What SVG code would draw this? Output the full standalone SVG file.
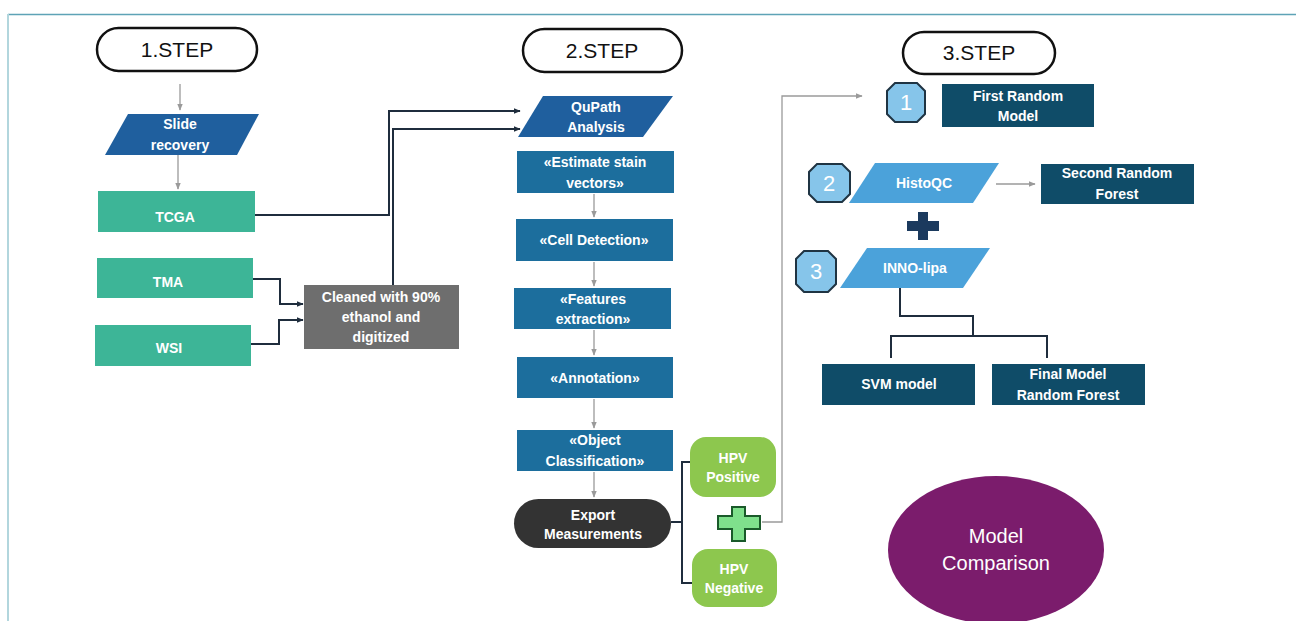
<svg xmlns="http://www.w3.org/2000/svg" width="1296" height="621" viewBox="0 0 1296 621">
<style>
  .t{font-family:"Liberation Sans",Arial,sans-serif;fill:#fff;text-anchor:middle;font-weight:bold;font-size:14px}
  .step{fill:#fff;stroke:#111;stroke-width:2.5}
  .stept{font-family:"Liberation Sans",Arial,sans-serif;fill:#111;text-anchor:middle;font-size:21px}
  .par1{fill:#1f5f9e}
  .blue{fill:#1c6e9d}
  .navy{fill:#0f4c68}
  .lblue{fill:#4ba2da}
  .teal{fill:#3db597}
  .badge{fill:#86c5ea;stroke:#1f3443;stroke-width:2}
  .bt{font-family:"Liberation Sans",Arial,sans-serif;fill:#fff;text-anchor:middle;font-size:22px}
  .g{fill:none;stroke:#9a9a9a;stroke-width:1.3}
  .d{fill:none;stroke:#1f2d3d;stroke-width:2}
</style>
<defs>
  <marker id="ag" viewBox="0 0 10 10" refX="9" refY="5" markerWidth="7" markerHeight="7" orient="auto" markerUnits="userSpaceOnUse">
    <path d="M0,1 L10,5 L0,9 z" fill="#9a9a9a"/>
  </marker>
  <marker id="ad" viewBox="0 0 10 10" refX="9" refY="5" markerWidth="7" markerHeight="7" orient="auto" markerUnits="userSpaceOnUse">
    <path d="M0,1 L10,5 L0,9 z" fill="#1f2d3d"/>
  </marker>
</defs>
<rect width="1296" height="621" fill="#fff"/>
<line x1="8" y1="14.5" x2="1296" y2="14.5" stroke="#5ea3b6" stroke-width="1.5"/>
<line x1="8" y1="14" x2="8" y2="621" stroke="#b2d6dd" stroke-width="2"/>

<g id="connectors">
  <path class="g" d="M180,84 V110" marker-end="url(#ag)"/>
  <path class="g" d="M178,155 V189" marker-end="url(#ag)"/>
  <path class="d" d="M253,279 H280 V304 H303" marker-end="url(#ad)"/>
  <path class="d" d="M251,344 H279 V320 H303" marker-end="url(#ad)"/>
  <path class="d" d="M255,215 H389 V111 H520" marker-end="url(#ad)"/>
  <path class="d" d="M393,285 V129 H520" marker-end="url(#ad)"/>
  <path class="g" d="M594,194 V217" marker-end="url(#ag)"/>
  <path class="g" d="M594,262 V286" marker-end="url(#ag)"/>
  <path class="g" d="M594,330 V355" marker-end="url(#ag)"/>
  <path class="g" d="M594,399 V428" marker-end="url(#ag)"/>
  <path class="g" d="M594,472 V497" marker-end="url(#ag)"/>
  <path class="d" d="M671,522 H682 M690,462 H682 V583 H692"/>
  <path class="g" d="M762,522 H782 V96 H862" marker-end="url(#ag)"/>
  <path class="g" d="M996,184 H1035" marker-end="url(#ag)"/>
  <path class="d" d="M900,288 V316 H973 V336 M891,358 V336 H1047 V358"/>
</g>

<g id="step1">
  <rect class="step" x="97" y="28" width="160" height="43" rx="21.5"/>
  <text class="stept" x="177" y="57">1.STEP</text>
</g>
<g id="slide-recovery">
  <polygon class="par1" points="128,114 259,114 237,155 105,155"/>
  <text class="t" x="180" y="129" font-size="15">Slide</text>
  <text class="t" x="180" y="150" font-size="15">recovery</text>
</g>
<g id="tcga">
  <rect class="teal" x="98" y="191" width="157" height="41"/>
  <text class="t" x="175" y="222" font-size="16">TCGA</text>
</g>
<g id="tma">
  <rect class="teal" x="97" y="258" width="156" height="40"/>
  <text class="t" x="168" y="287" font-size="16">TMA</text>
</g>
<g id="wsi">
  <rect class="teal" x="95" y="325" width="156" height="41"/>
  <text class="t" x="169" y="353" font-size="16">WSI</text>
</g>
<g id="cleaned">
  <rect x="304" y="285" width="155" height="64" fill="#6e6e6e"/>
  <text class="t" x="381" y="302">Cleaned with 90%</text>
  <text class="t" x="381" y="322">ethanol and</text>
  <text class="t" x="381" y="342">digitized</text>
</g>

<g id="step2">
  <rect class="step" x="523" y="29" width="159" height="43" rx="21.5"/>
  <text class="stept" x="602" y="58">2.STEP</text>
</g>
<g id="qupath">
  <polygon class="par1" points="543,96 673,96 643,137 518,137"/>
  <text class="t" x="596" y="112">QuPath</text>
  <text class="t" x="596" y="132">Analysis</text>
</g>
<g id="estimate">
  <rect class="blue" x="517" y="151" width="157" height="42"/>
  <text class="t" x="595" y="167">«Estimate stain</text>
  <text class="t" x="595" y="188">vectors»</text>
</g>
<g id="cell-detection">
  <rect class="blue" x="516" y="219" width="157" height="42"/>
  <text class="t" x="594" y="245">«Cell Detection»</text>
</g>
<g id="features">
  <rect class="blue" x="514" y="288" width="157" height="41"/>
  <text class="t" x="593" y="304">«Features</text>
  <text class="t" x="593" y="324">extraction»</text>
</g>
<g id="annotation">
  <rect class="blue" x="517" y="357" width="156" height="41"/>
  <text class="t" x="595" y="383">«Annotation»</text>
</g>
<g id="object-classification">
  <rect class="blue" x="517" y="430" width="156" height="41"/>
  <text class="t" x="595" y="445">«Object</text>
  <text class="t" x="595" y="466">Classification»</text>
</g>
<g id="export">
  <rect x="514" y="499" width="157" height="49" rx="24.5" fill="#333"/>
  <text class="t" x="593" y="520" font-size="13">Export</text>
  <text class="t" x="593" y="539" font-size="13">Measurements</text>
</g>
<g id="hpv-positive">
  <rect x="690" y="437" width="86" height="60" rx="16" fill="#8dc74e"/>
  <text class="t" x="733" y="463" font-size="13">HPV</text>
  <text class="t" x="733" y="482" font-size="13">Positive</text>
</g>
<g id="hpv-negative">
  <rect x="692" y="549" width="85" height="58" rx="16" fill="#8dc74e"/>
  <text class="t" x="734" y="574" font-size="13">HPV</text>
  <text class="t" x="734" y="593" font-size="13">Negative</text>
</g>
<g id="plus-green">
  <path d="M732,507 H745 V516 H760 V529 H745 V541 H732 V529 H718 V516 H732 Z" fill="#7fe08c" stroke="#1a5a2a" stroke-width="2"/>
</g>

<g id="step3">
  <rect class="step" x="903" y="32" width="152" height="42" rx="21"/>
  <text class="stept" x="979" y="60">3.STEP</text>
</g>
<g id="badge1">
  <polygon class="badge" points="895,83 917,83 925,91 925,114 917,122 895,122 887,114 887,91"/>
  <text class="bt" x="906" y="110">1</text>
</g>
<g id="first-random">
  <rect class="navy" x="942" y="84" width="152" height="43"/>
  <text class="t" x="1018" y="101">First Random</text>
  <text class="t" x="1018" y="121">Model</text>
</g>
<g id="badge2">
  <polygon class="badge" points="817,164 842,164 850,172 850,194 842,202 817,202 809,194 809,172"/>
  <text class="bt" x="829" y="191">2</text>
</g>
<g id="histoqc">
  <polygon class="lblue" points="875,163 999,163 973,203 849,203"/>
  <text class="t" x="924" y="188" font-size="13">HistoQC</text>
</g>
<g id="second-random">
  <rect class="navy" x="1041" y="164" width="153" height="40"/>
  <text class="t" x="1117" y="178">Second Random</text>
  <text class="t" x="1117" y="199">Forest</text>
</g>
<g id="plus-dark">
  <path d="M918,212 H928 V221 H939 V231 H928 V240 H918 V231 H907 V221 H918 Z" fill="#1b3a5e"/>
</g>
<g id="badge3">
  <polygon class="badge" points="804,251 828,251 836,259 836,284 828,292 804,292 796,284 796,259"/>
  <text class="bt" x="816" y="279">3</text>
</g>
<g id="inno-lipa">
  <polygon class="lblue" points="867,248 990,248 963,288 840,288"/>
  <text class="t" x="915" y="273" font-size="13">INNO-lipa</text>
</g>
<g id="svm">
  <rect class="navy" x="822" y="364" width="153" height="41"/>
  <text class="t" x="899" y="389">SVM model</text>
</g>
<g id="final-model">
  <rect class="navy" x="992" y="364" width="153" height="41"/>
  <text class="t" x="1068" y="379">Final Model</text>
  <text class="t" x="1068" y="400">Random Forest</text>
</g>
<g id="model-comparison">
  <ellipse cx="996" cy="550" rx="108" ry="74" fill="#7b1c6c"/>
  <text x="996" y="543" font-family="'Liberation Sans',Arial,sans-serif" font-size="20" fill="#fff" text-anchor="middle">Model</text>
  <text x="996" y="570" font-family="'Liberation Sans',Arial,sans-serif" font-size="20" fill="#fff" text-anchor="middle">Comparison</text>
</g>
</svg>
